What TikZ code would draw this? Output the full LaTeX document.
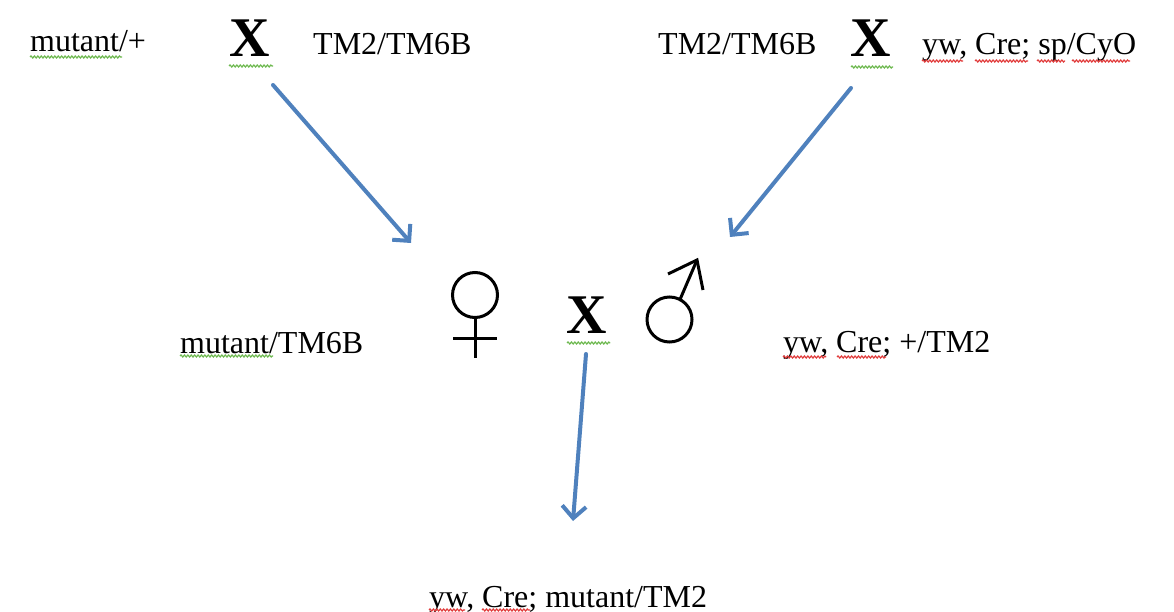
\documentclass[tikz,border=0pt]{standalone}
\usepackage{fontspec}
\setmainfont{Liberation Serif}
\usetikzlibrary{arrows.meta,decorations.pathmorphing}
\definecolor{arrowblue}{RGB}{79,129,189}
\definecolor{squiggreen}{RGB}{110,185,80}
\definecolor{squigred}{RGB}{225,60,60}
\tikzset{
  lbl/.style={inner sep=0pt, anchor=base west, font=\fontsize{32}{38}\selectfont},
  cross/.style={inner sep=0pt, anchor=base, font=\fontsize{56}{60}\selectfont\bfseries},
  flow/.style={draw=arrowblue, line width=4pt, line cap=round,
    -{Straight Barb[length=12pt, width=24pt, line width=4pt]}},
  sym/.style={draw=black, line width=3pt},
  squig/.style={line width=1.2pt, decorate,
    decoration={snake, segment length=3.4pt, amplitude=1pt}},
}
\begin{document}
\begin{tikzpicture}[x=1pt, y=-1pt]
\useasboundingbox (0,0) rectangle (1174,612);
% top row
\node[lbl] (p1) at (30,52) {mutant/+};
\node[cross] (x1) at (250,57) {X};
\node[lbl] (p2) at (313,55) {TM2/TM6B};
\node[lbl] (p3) at (658,55) {TM2/TM6B};
\node[cross] (x2) at (871,57) {X};
\node[lbl] (p4) at (922,55) {yw, Cre; sp/CyO};
% middle row
\node[lbl] (f1) at (180,353) {mutant/TM6B};
\node[cross] (x3) at (587,333) {X};
\node[lbl] (m1) at (783,352) {yw, Cre; +/TM2};
% bottom
\node[lbl] (o1) at (429,607) {yw, Cre; mutant/TM2};
% female symbol
\draw[sym] (475,295) circle (22.5);
\draw[sym] (475,317.5) -- (475,358);
\draw[sym] (453,338) -- (497,338);
% male symbol
\draw[sym] (669.5,319.5) circle (22.5);
\draw[sym] (680,299.5) -- (697,260);
\draw[sym, line join=miter] (668,274) -- (697,260) -- (703,290);
% arrow coordinates
\coordinate (a1s) at (273,85);
\coordinate (a1e) at (411,243);
\coordinate (a2s) at (851,88);
\coordinate (a2e) at (730,237);
\coordinate (a3s) at (586,354);
\coordinate (a3e) at (573,521);
\draw[flow] (a1s) -- (a1e);
\draw[flow] (a2s) -- (a2e);
\draw[flow] (a3s) -- (a3e);
% spell-check squiggles
\draw[squig, squiggreen] (30,57) -- (122,57);
\draw[squig, squiggreen] (229,66) -- (273,66);
\draw[squig, squiggreen] (851,67) -- (893,67);
\draw[squig, squigred] (922,61) -- (963,61);
\draw[squig, squigred] (975,61) -- (1028,61);
\draw[squig, squigred] (1037,61) -- (1065,61);
\draw[squig, squigred] (1072,61) -- (1130,61);
\draw[squig, squiggreen] (180,356) -- (273,356);
\draw[squig, squiggreen] (567,343) -- (610,343);
\draw[squig, squigred] (783,357) -- (826,357);
\draw[squig, squigred] (837,357) -- (886,357);
\draw[squig, squigred] (429,610) -- (465,610);
\draw[squig, squigred] (482,610) -- (530,610);
\end{tikzpicture}
\end{document}
